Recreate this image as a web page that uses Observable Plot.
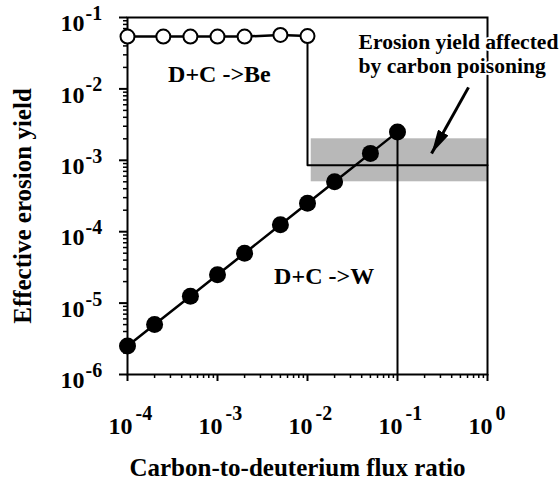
<!DOCTYPE html>
<html><head><meta charset="utf-8">
<script src="https://cdn.jsdelivr.net/npm/d3@7"></script>
<script src="https://cdn.jsdelivr.net/npm/@observablehq/plot@0.6"></script>
<style>body{margin:0;background:#fff}</style>
</head><body><div id="chart"></div>
<script>
// D+C -> W (filled circles)
const wRatio = [1e-4, 2e-4, 5e-4, 1e-3, 2e-3, 5e-3, 1e-2, 2e-2, 5e-2, 1e-1];
const wYield = [2.5e-6, 5e-6, 1.25e-5, 2.5e-5, 5e-5, 1.25e-4, 2.5e-4, 5e-4, 1.25e-3, 2.5e-3];
// D+C -> Be (open circles)
const beRatio = [1e-4, 2.5e-4, 5e-4, 1e-3, 2e-3, 5e-3, 1e-2];
const beYield = [0.054, 0.054, 0.054, 0.054, 0.054, 0.057, 0.055];
// drop to carbon-poisoned level
const stepRatio = [1e-2, 1e-2, 1];
const stepYield = [0.055, 8.5e-4, 8.5e-4];
// shaded band
const bandRatio = [0.011, 1];
const bandYield = [5e-4, 2e-3];
// tick labels
const xTicks = [1e-4, 1e-3, 1e-2, 1e-1, 1];
const xTickExp = ["-4", "-3", "-2", "-1", "0"];
const yTicks = [1e-1, 1e-2, 1e-3, 1e-4, 1e-5, 1e-6];
const yTickExp = ["-1", "-2", "-3", "-4", "-5", "-6"];
// annotations
const labelBe = {x: 1.05e-3, y: 0.0159, text: "D+C ->Be"};
const labelW = {x: 0.0153, y: 2.4e-5, text: "D+C ->W"};
const noteText = {x: 0.0369, y: 0.0318, text: "Erosion yield affected\nby carbon poisoning"};
const noteArrow = {x1: 0.615, y1: 0.0105, x2: 0.239, y2: 1.245e-3};

const minorOf = (decades) => decades.slice(0, -1).flatMap(d => [2,3,4,5,6,7,8,9].map(k => k * d));
const xMinor = minorOf(xTicks);
const yMinor = minorOf([...yTicks].reverse());

const wData = wRatio.map((r, i) => ({r, y: wYield[i]}));
const beData = beRatio.map((r, i) => ({r, y: beYield[i]}));
const stepData = stepRatio.map((r, i) => ({r, y: stepYield[i]}));
const band = [{x1: bandRatio[0], x2: bandRatio[1], y1: bandYield[0], y2: bandYield[1]}];
const last = wData[wData.length - 1];
const drop = [{x: last.r, y1: last.y, y2: yTicks[yTicks.length - 1]}];

const filledArrow = (color, context) => {
  const doc = (context && context.document) || document;
  const ns = "http://www.w3.org/2000/svg";
  const m = doc.createElementNS(ns, "marker");
  m.setAttribute("viewBox", "-24 -6 24 12");
  m.setAttribute("markerUnits", "userSpaceOnUse");
  m.setAttribute("markerWidth", 24);
  m.setAttribute("markerHeight", 12);
  m.setAttribute("refX", 0);
  m.setAttribute("refY", 0);
  m.setAttribute("orient", "auto");
  const p = doc.createElementNS(ns, "path");
  p.setAttribute("d", "M-24,-6L0,0L-24,6Z");
  p.setAttribute("fill", "black");
  p.setAttribute("stroke", "none");
  m.appendChild(p);
  return m;
};

const font = "Liberation Serif";
const chart = Plot.plot({
  width: 560,
  height: 480,
  marginLeft: 127,
  marginRight: 73,
  marginTop: 17,
  marginBottom: 106,
  style: {fontFamily: font, fontWeight: "bold", background: "white", color: "black"},
  x: {type: "log", domain: [1e-4, 1]},
  y: {type: "log", domain: [1e-6, 1e-1]},
  marks: [
    Plot.rect(band, {x1: "x1", x2: "x2", y1: "y1", y2: "y2", fill: "#b8b8b8"}),
    Plot.frame({stroke: "black", strokeWidth: 2}),
    Plot.axisX({ticks: xTicks, tickSize: 7, tickFormat: () => "", label: null, strokeWidth: 2}),
    Plot.axisX({ticks: xMinor, tickSize: 4, tickFormat: () => "", label: null, strokeWidth: 1.5}),
    Plot.axisY({ticks: yTicks, tickSize: 8, tickFormat: () => "", label: null, strokeWidth: 2}),
    Plot.axisY({ticks: yMinor, tickSize: 4, tickFormat: () => "", label: null, strokeWidth: 1.5}),
    Plot.text(xTicks, {x: d => d, text: () => "10", frameAnchor: "bottom", lineAnchor: "middle", textAnchor: "end", dx: 5, dy: 52, fontSize: 24}),
    Plot.text(xTicks, {x: d => d, text: (d, i) => xTickExp[i], frameAnchor: "bottom", lineAnchor: "middle", textAnchor: "start", dx: 8, dy: 39, fontSize: 20}),
    Plot.text(yTicks, {y: d => d, text: () => "10", frameAnchor: "left", lineAnchor: "middle", textAnchor: "end", dx: -43, dy: 6, fontSize: 24}),
    Plot.text(yTicks, {y: d => d, text: (d, i) => yTickExp[i], frameAnchor: "left", lineAnchor: "middle", textAnchor: "start", dx: -42, dy: -4, fontSize: 20}),
    Plot.text(["Carbon-to-deuterium flux ratio"], {frameAnchor: "bottom", lineAnchor: "middle", textAnchor: "middle", dx: -10, dy: 93, fontSize: 25}),
    Plot.text(["Effective erosion yield"], {frameAnchor: "left", lineAnchor: "middle", textAnchor: "middle", rotate: -90, dx: -105, dy: 10, fontSize: 25}),
    Plot.ruleX(drop, {x: "x", y1: "y1", y2: "y2", stroke: "black", strokeWidth: 2}),
    Plot.line(stepData, {x: "r", y: "y", stroke: "black", strokeWidth: 2}),
    Plot.line(beData, {x: "r", y: "y", stroke: "black", strokeWidth: 2.5}),
    Plot.dot(beData, {x: "r", y: "y", r: 7, fill: "white", stroke: "black", strokeWidth: 2}),
    Plot.line(wData, {x: "r", y: "y", stroke: "black", strokeWidth: 2.5}),
    Plot.dot(wData, {x: "r", y: "y", r: 8.5, fill: "black"}),
    Plot.text([labelBe, labelW], {x: "x", y: "y", text: "text", fontSize: 24}),
    Plot.text([noteText], {x: "x", y: "y", text: "text", textAnchor: "start", lineAnchor: "middle", lineHeight: 1.12, fontSize: 21.6, fill: "black", stroke: "white", strokeWidth: 4, paintOrder: "stroke"}),
    Plot.link([noteArrow], {x1: "x1", y1: "y1", x2: "x2", y2: "y2", stroke: "black", strokeWidth: 3, markerEnd: filledArrow})
  ]
});
document.getElementById("chart").appendChild(chart);
</script>
</body></html>
